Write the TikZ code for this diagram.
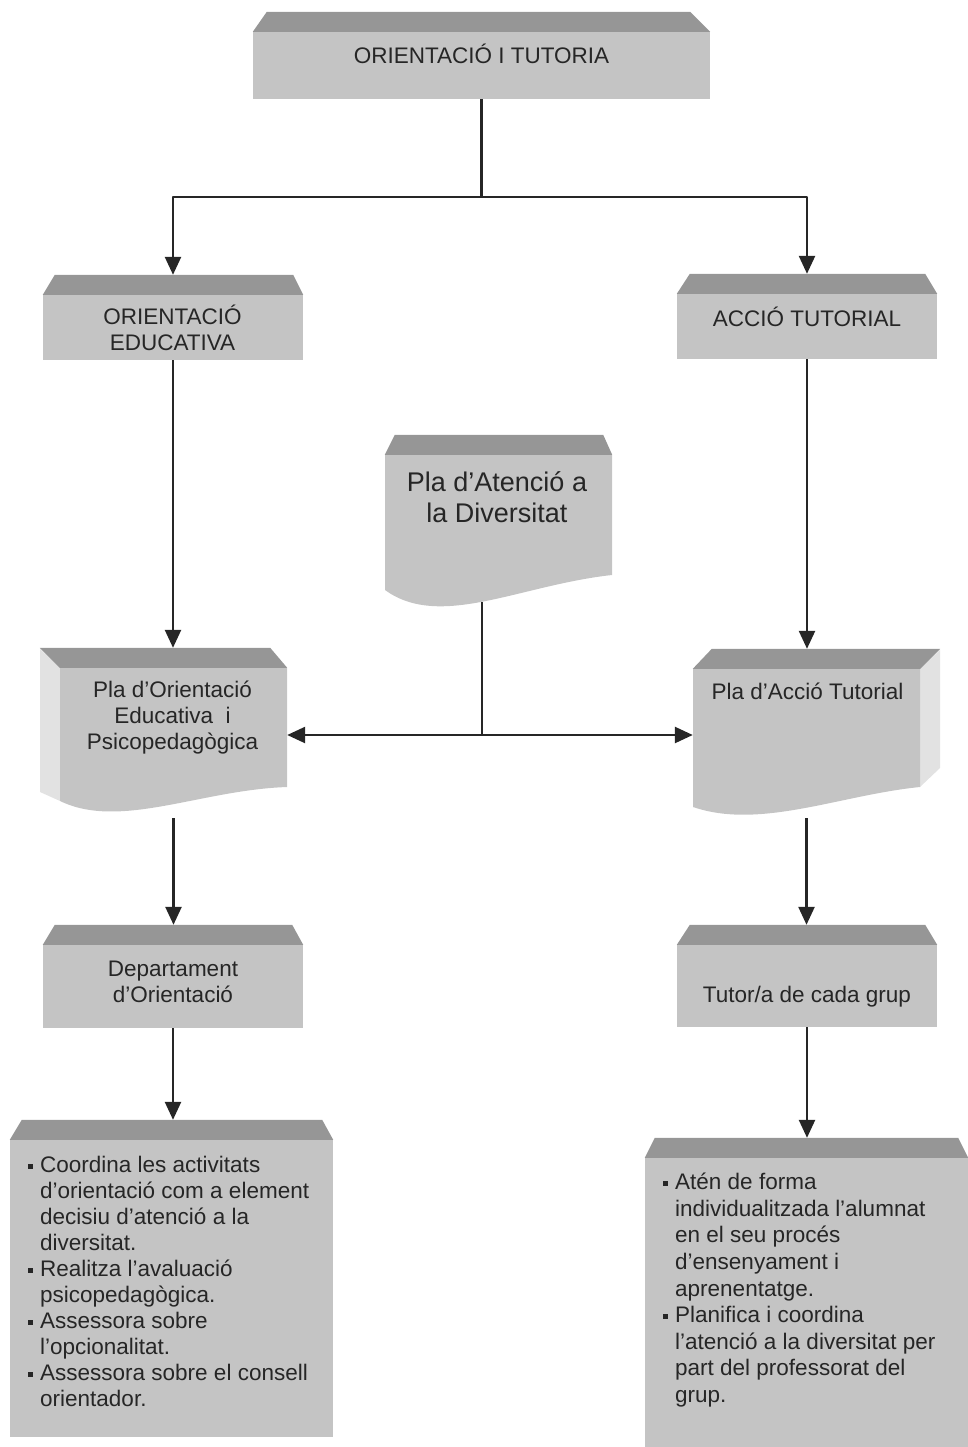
\documentclass[tikz,border=0pt]{standalone}
\usepackage{fontspec}
\setmainfont{Liberation Sans}
\usetikzlibrary{arrows.meta}
\definecolor{cara}{RGB}{196,196,196}
\definecolor{sostre}{RGB}{150,150,150}
\definecolor{lateral}{RGB}{226,226,226}
\definecolor{tinta}{RGB}{38,38,38}
\newcommand{\vinyeta}{\makebox[12pt][l]{\rule[4pt]{4.5pt}{4.5pt}}}
\newcommand{\sagnat}{\hspace*{12pt}}
\tikzset{
  caixa/.style={rectangle, fill=cara, inner sep=0pt},
  fulla/.style={rectangle, inner sep=0pt},
  rotul/.style={inner sep=0pt, text=tinta, align=center, font=\fontsize{22.5}{26}\selectfont},
  llista/.style={inner sep=0pt, text=tinta, align=left, anchor=north west, font=\fontsize{22.5}{26}\selectfont},
  linia/.style={line width=2.5pt, draw=black!85},
  fletxa/.style={linia, -{Triangle[length=18pt,width=16pt]}},
}
\begin{document}
\begin{tikzpicture}[x=1pt, y=-1pt, line join=round]
\useasboundingbox (0,0) rectangle (968,1447);
% els fulls (cara lateral i cara ondulada)
\fill[lateral] (40,649) -- (60,668) -- (60,801) -- (40,792) -- cycle;
\fill[cara] (60,668) -- (287,668) -- (287,787) .. controls (200,790) and (120,830) .. (60,801) -- cycle;
\fill[cara] (385,455) -- (612,455) -- (612,575) .. controls (520,585) and (440,630) .. (385,590) -- cycle;
\fill[lateral] (920,669) -- (940,650) -- (940,768) -- (920,787) -- cycle;
\fill[cara] (693,669) -- (920,669) -- (920,787) .. controls (840,795) and (760,830) .. (693,807) -- cycle;

% caixes
\node[caixa, minimum width=457pt, minimum height=67pt] (ot) at (481.5,65.5) {};
\node[caixa, minimum width=260pt, minimum height=65pt] (oe) at (173,327.5) {};
\node[caixa, minimum width=260pt, minimum height=65pt] (at) at (807,326.5) {};
\node[caixa, minimum width=260pt, minimum height=83pt] (dept) at (173,986.5) {};
\node[caixa, minimum width=260pt, minimum height=82pt] (tutor) at (807,986) {};
\node[caixa, minimum width=323pt, minimum height=297pt] (foe) at (171.5,1288.5) {};
\node[caixa, minimum width=323pt, minimum height=289pt] (fat) at (806.5,1302.5) {};
\node[fulla, minimum width=227pt, minimum height=147pt] (pad) at (498.5,528.5) {};
\node[fulla, minimum width=227pt, minimum height=150pt] (poep) at (173.5,743) {};
\node[fulla, minimum width=227pt, minimum height=149pt] (pat) at (806.5,743.5) {};

% sostres
\foreach \n/\a/\b in {ot/14/-20, oe/12/-10, at/13/-12, pad/10/-9, poep/-20/-17,
                      pat/19/20, dept/12/-11, tutor/13/-12, foe/12/-11, fat/10/-10}{
  \fill[sostre] (\n.north west) -- ([shift={(\a,-20)}]\n.north west)
    -- ([shift={(\b,-20)}]\n.north east) -- (\n.north east) -- cycle;
  \coordinate (\n-dalt) at ([yshift=20pt]\n.north);
}

% textos
\node[rotul] (ot-text) at (481.5,54) {ORIENTACIÓ I TUTORIA};
\node[rotul] (oe-text) at (172.5,328) {ORIENTACIÓ\\EDUCATIVA};
\node[rotul] (at-text) at (807,317) {ACCIÓ TUTORIAL};
\node[rotul, font=\fontsize{27}{31}\selectfont] (pad-text) at (497,497) {Pla d'Atenció a\\la Diversitat};
\node[rotul] (poep-text) at (172.5,718) {Pla d'Orientació\\Educativa \ i\\Psicopedagògica};
\node[rotul] (pat-text) at (807.5,691) {Pla d'Acció Tutorial};
\node[rotul] (dept-text) at (173,982) {Departament\\d'Orientació};
\node[rotul] (tutor-text) at (807,997) {Tutor/a de cada grup};
\node[llista] (foe-text) at (28,1156) {\vinyeta Coordina les activitats\\
  \sagnat d'orientació com a element\\
  \sagnat decisiu d'atenció a la\\
  \sagnat diversitat.\\
  \vinyeta Realitza l'avaluació\\
  \sagnat psicopedagògica.\\
  \vinyeta Assessora sobre\\
  \sagnat l'opcionalitat.\\
  \vinyeta Assessora sobre el consell\\
  \sagnat orientador.};
\node[llista, font=\fontsize{22.5}{26.6}\selectfont] (fat-text) at (663,1173) {\vinyeta Atén de forma\\
  \sagnat individualitzada l'alumnat\\
  \sagnat en el seu procés\\
  \sagnat d'ensenyament i\\
  \sagnat aprenentatge.\\
  \vinyeta Planifica i coordina\\
  \sagnat l'atenció a la diversitat per\\
  \sagnat part del professorat del\\
  \sagnat grup.};

% connectors
\coordinate (branca) at (482,197);
\coordinate (cruilla) at (482,735);
\draw[linia] (ot.south) -- (ot.south |- branca);
\draw[fletxa] (ot.south |- branca) -| (oe-dalt);
\draw[fletxa] (ot.south |- branca) -| (at-dalt);
\draw[fletxa] (oe.south) -- (oe.south |- poep-dalt);
\draw[fletxa] (at.south) -- (at.south |- pat-dalt);
\draw[linia] (cruilla |- pad.south) -- (cruilla);
\draw[fletxa] (cruilla) -- (cruilla -| poep.east);
\draw[fletxa] (cruilla) -- (cruilla -| pat.west);
\draw[fletxa] (poep.south) -- (poep.south |- dept-dalt);
\draw[fletxa] (pat.south) -- (pat.south |- tutor-dalt);
\draw[fletxa] (dept.south) -- (dept.south |- foe-dalt);
\draw[fletxa] (tutor.south) -- (tutor.south |- fat-dalt);
\end{tikzpicture}
\end{document}
